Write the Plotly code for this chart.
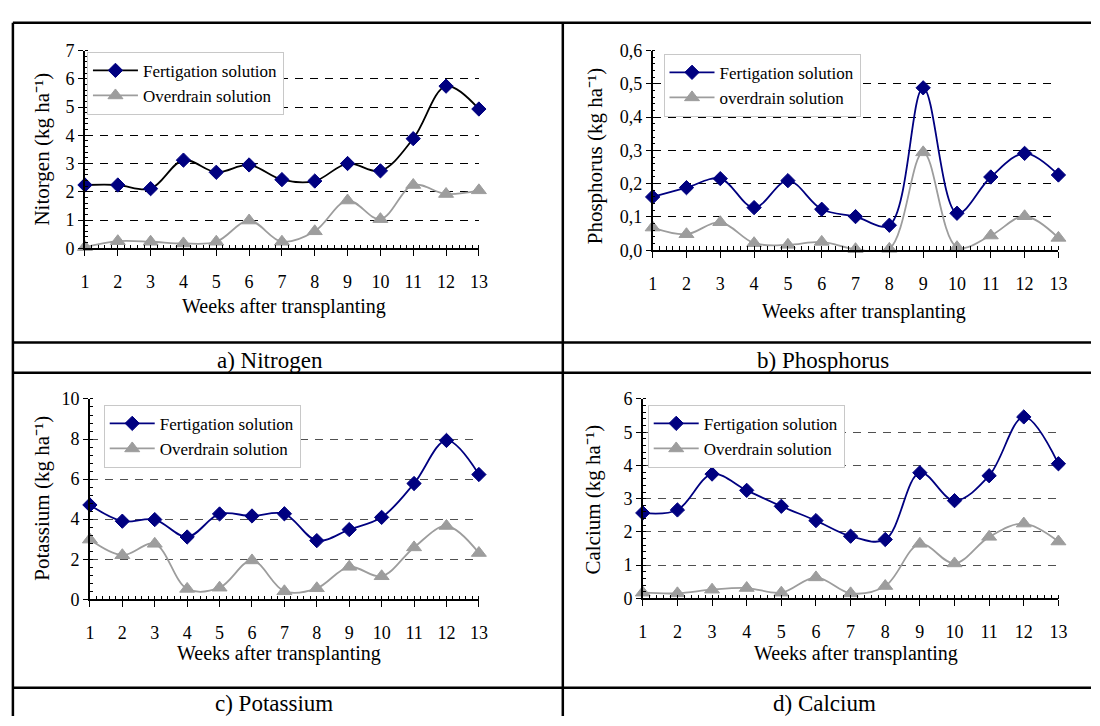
import plotly.graph_objects as go

W, H = 1100, 726
FONT = "Liberation Serif, Times New Roman, serif"

# ---- data (kg ha-1 per week) ----
weeks = list(range(1, 14))

nitrogen_fert = [2.24, 2.24, 2.11, 3.12, 2.69, 2.95, 2.43, 2.38, 3.00, 2.74, 3.88, 5.74, 4.93]
nitrogen_drain = [0.04, 0.25, 0.23, 0.17, 0.23, 0.98, 0.23, 0.60, 1.69, 1.03, 2.24, 1.92, 2.05]

phosphorus_fert = [0.160, 0.188, 0.215, 0.128, 0.209, 0.123, 0.101, 0.075, 0.488, 0.111, 0.220, 0.291, 0.226]
phosphorus_drain = [0.068, 0.048, 0.084, 0.021, 0.016, 0.025, 0.003, 0.004, 0.294, 0.009, 0.044, 0.102, 0.037]

potassium_fert = [4.71, 3.90, 3.98, 3.11, 4.26, 4.16, 4.27, 2.93, 3.48, 4.09, 5.78, 7.93, 6.23]
potassium_drain = [2.98, 2.20, 2.77, 0.52, 0.58, 1.94, 0.40, 0.55, 1.62, 1.15, 2.59, 3.66, 2.31]

calcium_fert = [2.57, 2.66, 3.74, 3.25, 2.77, 2.34, 1.87, 1.77, 3.78, 2.94, 3.69, 5.46, 4.05]
calcium_drain = [0.17, 0.15, 0.26, 0.31, 0.17, 0.63, 0.15, 0.37, 1.64, 1.05, 1.85, 2.25, 1.71]

fert_names = ["Fertigation solution"] * 4
drain_names = ["Overdrain solution", "overdrain solution", "Overdrain solution", "Overdrain solution"]
y_titles = ["Nitorgen", "Phosphorus", "Potassium", "Calcium"]
captions = ["a) Nitrogen", "b) Phosphorus", "c) Potassium", "d) Calcium"]
x_title = "Weeks after transplanting"
unit = "(kg ha\u207b\u00b9)"

NAVY = "#000080"
GREY = "#9d9d9d"


def px_x(v):
    return v / W


def px_y(v):
    return 1 - v / H


# panel geometry in pixels: plot box (left, right, top, bottom), legend corner,
# axis-title centres, caption centre
panels = [
    dict(fert=nitrogen_fert, drain=nitrogen_drain, ymax=7, dtick=1, minor=0.2,
         box=(81, 480, 41.7, 245), leg=(83, 43), fert_line="black", grid="#000000",
         ytit=(38, 143), xtit=(283, 305), cap=(268, 360), fmt="d"),
    dict(fert=phosphorus_fert, drain=phosphorus_drain, ymax=0.6, dtick=0.1, minor=0.02,
         box=(656, 1067, 41.7, 247), leg=(667, 45), fert_line=NAVY, grid="#000000",
         ytit=(597, 150), xtit=(870, 310), cap=(829, 360), fmt=".1f"),
    dict(fert=potassium_fert, drain=potassium_drain, ymax=10, dtick=2, minor=0.4,
         box=(86, 480, 400, 606), leg=(100, 406), fert_line=NAVY, grid="#505050",
         ytit=(38, 502), xtit=(278, 662), cap=(272, 713), fmt="d"),
    dict(fert=calcium_fert, drain=calcium_drain, ymax=6, dtick=1, minor=0.2,
         box=(646, 1067, 400, 605), leg=(651, 406), fert_line=NAVY, grid="#505050",
         ytit=(596, 503), xtit=(862, 662), cap=(830, 713), fmt="d"),
]

fig = go.Figure()
layout = dict(
    width=W, height=H, margin=dict(l=0, r=0, t=0, b=0),
    paper_bgcolor="white", plot_bgcolor="white",
    font=dict(family=FONT, color="black", size=18),
    separators=", ",
    showlegend=True,
)
annotations = []

for i, p in enumerate(panels):
    n = "" if i == 0 else str(i + 1)
    xa, ya = "x" + n, "y" + n
    leg = "legend" + n
    fig.add_trace(go.Scatter(
        x=weeks, y=p["fert"], name=fert_names[i], xaxis=xa, yaxis=ya, legend=leg,
        mode="lines+markers", line=dict(color=p["fert_line"], width=1.8, shape="spline", smoothing=1),
        marker=dict(symbol="diamond", size=11, color=NAVY, line=dict(color=NAVY, width=1)),
        cliponaxis=False,
    ))
    fig.add_trace(go.Scatter(
        x=weeks, y=p["drain"], name=drain_names[i], xaxis=xa, yaxis=ya, legend=leg,
        mode="lines+markers", line=dict(color=GREY, width=1.8, shape="spline", smoothing=1),
        marker=dict(symbol="triangle-up", size=13, color=GREY, line=dict(color=GREY, width=1)),
        cliponaxis=False,
    ))
    l, r, t, b = p["box"]
    layout["xaxis" + n] = dict(
        domain=[px_x(l), px_x(r)], anchor=ya, range=[1, 13],
        tickmode="linear", tick0=1, dtick=1, ticks="outside", ticklen=6, tickwidth=1,
        tickcolor="black", showline=True, linecolor="black", linewidth=1.5,
        showgrid=False, zeroline=False, ticklabelstandoff=10,
        tickfont=dict(family=FONT, size=18),
        minor=dict(ticks="inside", ticklen=4, dtick=0.2, tickcolor="black", showgrid=False),
    )
    layout["yaxis" + n] = dict(
        domain=[px_y(b), px_y(t)], anchor=xa, range=[0, p["ymax"]],
        tickmode="linear", tick0=0, dtick=p["dtick"], ticks="outside", ticklen=5,
        tickcolor="black", showline=True, linecolor="black", linewidth=1.5,
        showgrid=True, gridcolor=p["grid"], gridwidth=1.2, griddash="8px,7px",
        zeroline=False, tickformat=p["fmt"], tickfont=dict(family=FONT, size=18),
        minor=dict(ticks="inside", ticklen=3, dtick=p["minor"], tickcolor="black", showgrid=False),
    )
    layout[leg] = dict(
        x=px_x(p["leg"][0]), y=px_y(p["leg"][1]), xanchor="left", yanchor="top",
        bgcolor="white", bordercolor="#c8c8c8", borderwidth=1,
        font=dict(family=FONT, size=17), tracegroupgap=0, itemwidth=45,
    )
    annotations.append(dict(
        x=px_x(p["ytit"][0]), y=px_y(p["ytit"][1]), xref="paper", yref="paper",
        text=y_titles[i] + " " + unit, textangle=-90, showarrow=False,
        font=dict(family=FONT, size=21), xanchor="center", yanchor="middle",
    ))
    annotations.append(dict(
        x=px_x(p["xtit"][0]), y=px_y(p["xtit"][1]), xref="paper", yref="paper",
        text=x_title, showarrow=False, font=dict(family=FONT, size=20),
        xanchor="center", yanchor="middle",
    ))
    annotations.append(dict(
        x=px_x(p["cap"][0]), y=px_y(p["cap"][1]), xref="paper", yref="paper",
        text=captions[i], showarrow=False, font=dict(family=FONT, size=23),
        xanchor="center", yanchor="middle",
    ))

# table frame around the four panels
frame = dict(color="black", width=2.5)
shapes = []
for (x0, y0, x1, y1) in [(8, 13, 1100, 13), (8, 342, 1100, 342), (8, 373, 1100, 373),
                         (8, 697, 1100, 697), (8, 13, 8, 726), (565, 13, 565, 726)]:
    shapes.append(dict(type="line", xref="paper", yref="paper",
                       x0=px_x(x0), y0=px_y(y0), x1=px_x(x1), y1=px_y(y1), line=frame))

layout["annotations"] = annotations
layout["shapes"] = shapes
fig.update_layout(**layout)

fig.write_html("out.html")
